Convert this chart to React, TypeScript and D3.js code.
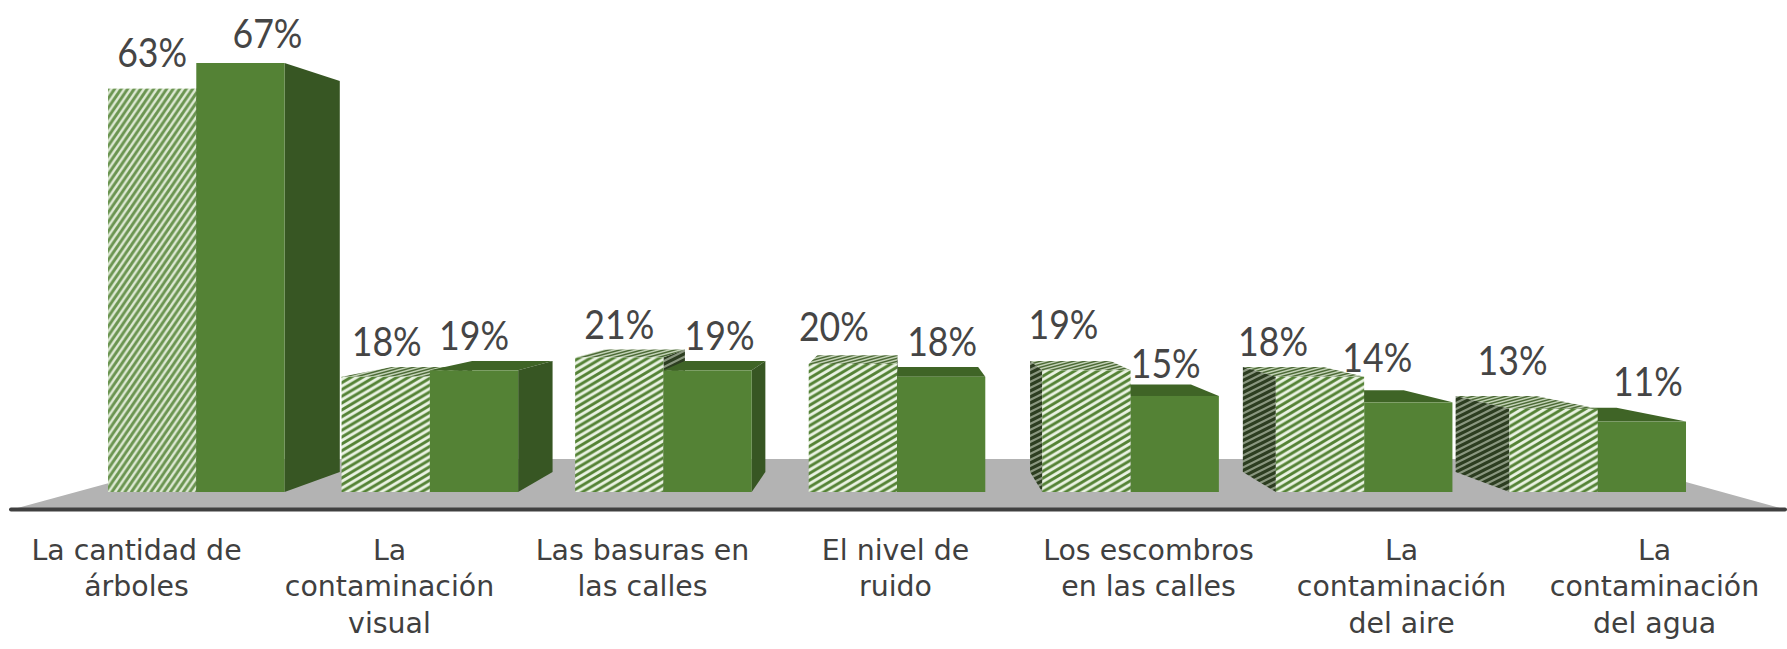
import React from "react";
import * as d3 from "d3";

const categories = [
  ["La cantidad de", "árboles"],
  ["La", "contaminación", "visual"],
  ["Las basuras en", "las calles"],
  ["El nivel de", "ruido"],
  ["Los escombros", "en las calles"],
  ["La", "contaminación", "del aire"],
  ["La", "contaminación", "del agua"],
];
const hatchedValues = [63, 18, 21, 20, 19, 18, 13];
const solidValues = [67, 19, 19, 18, 15, 14, 11];

// label placement relative to each bar's top centre
const hatchedNudgeX = [0, 1, 0, -19, -23, -47, -41];
const hatchedNudgeY = [-38, -37, -35, -39, -47, -37, -50];
const solidNudgeX = [27, 0, 12, 1, -9, -31, 6];
const solidNudgeY = [-31, -36, -36, -37, -34, -46, -42];

const W = 1787, H = 649;
const BASE = 492, VPX = 905, VPY = 266, DEPTH = 0.911;
const AXIS_Y = 509.5;

const keys = categories.map((_, i) => String(i));
const x0 = d3.scaleBand().domain(keys).range([79.5, 1714.5]).paddingInner(0.244).paddingOuter(0.122);
const x1 = d3.scaleBand().domain(["h", "s"]).range([0, x0.bandwidth()]);
const y = d3.scaleLinear().domain([0, 67]).range([BASE, 63]);
const xAxis = d3.scaleBand().domain(keys).range([10, 1781]);

const proj = (px: number, py: number, s: number): [number, number] => [VPX + (px - VPX) * s, VPY + (py - VPY) * s];
const poly = d3.line();
const floorS = (py: number) => (py - VPY) / (BASE - VPY);

function Tile({ id, w, h, bg, fg, ratio = 0.5, transform }: any) {
  const perp = (w * h) / Math.hypot(w, h);
  return (
    <pattern id={id} width={w} height={h} patternUnits="userSpaceOnUse" patternTransform={transform}>
      <rect width={w} height={h} fill={bg} />
      {[-1, 0, 1].map((k) => (
        <line key={k} x1={-w} y1={h * (2 + k)} x2={2 * w} y2={h * (k - 1)} stroke={fg} strokeWidth={perp * ratio} />
      ))}
    </pattern>
  );
}

type Bar = { g: number; kind: "h" | "s"; v: number; l: number; r: number; t: number };
const bars: Bar[] = [];
keys.forEach((k, i) => {
  (["h", "s"] as const).forEach((kind) => {
    const l = x0(k)! + x1(kind)!;
    const v = kind === "h" ? hatchedValues[i] : solidValues[i];
    bars.push({ g: i, kind, v, l, r: l + x1.bandwidth(), t: y(v) });
  });
});
const ordered = [...bars].sort((a, b) => Math.abs(b.l + b.r - 2 * VPX) - Math.abs(a.l + a.r - 2 * VPX));

function Box({ b }: { b: Bar }) {
  const fine = b.g === 0;
  const front = b.kind === "s" ? "#548235" : fine ? "url(#hFine)" : "url(#hFront)";
  const top = b.kind === "s" ? "#3f6426" : "url(#hTop)";
  const side = b.kind === "s" ? "#375623" : "url(#hSide)";
  const quad = (p: [number, number][]) => poly(p)! + "Z";
  const [bl, blt] = [proj(b.l, BASE, DEPTH), proj(b.l, b.t, DEPTH)];
  const [br, brt] = [proj(b.r, BASE, DEPTH), proj(b.r, b.t, DEPTH)];
  return (
    <g>
      {b.t > VPY && <path d={quad([[b.l, b.t], [b.r, b.t], brt, blt])} fill={top} />}
      {b.r < VPX && <path d={quad([[b.r, b.t], brt, br, [b.r, BASE]])} fill={side} />}
      {b.l > VPX && <path d={quad([[b.l, b.t], blt, bl, [b.l, BASE]])} fill={side} />}
      <rect x={b.l} y={b.t} width={b.r - b.l} height={BASE - b.t} fill={front} />
    </g>
  );
}

export default function App() {
  const sF = floorS(AXIS_Y), sB = floorS(459);
  const unproj = (px: number) => VPX + (px - VPX) / sF;
  const floor = [
    [12, AXIS_Y], [1785, AXIS_Y],
    proj(unproj(1785), BASE, sB), proj(unproj(12), BASE, sB),
  ] as [number, number][];
  return (
    <svg width={W} height={H} style={{ position: "absolute", left: 0, top: 0, background: "#fff" }}>
      <defs>
        <Tile id="hFine" w={6.5} h={9.5} bg="#dfeAd5" fg="#6a9450" ratio={0.55} />
        <Tile id="hFront" w={11.5} h={6.8} bg="#eaf3e3" fg="#548235" />
        <Tile id="hSide" w={12} h={6} bg="#8a9780" fg="#2c3d20" ratio={0.6} />
        <Tile id="hTop" w={11} h={3} bg="#c3d2b6" fg="#4c6a36" />
      </defs>
      <path d={poly(floor)! + "Z"} fill="#b3b3b3" />
      {ordered.map((b) => <Box key={b.g + b.kind} b={b} />)}
      <line x1={11} x2={1785} y1={AXIS_Y} y2={AXIS_Y} stroke="#404040" strokeWidth={4} strokeLinecap="round" />
      {bars.map((b) => {
        const nx = b.kind === "h" ? hatchedNudgeX[b.g] : solidNudgeX[b.g];
        const ny = b.kind === "h" ? hatchedNudgeY[b.g] : solidNudgeY[b.g];
        return (
          <text key={b.g + b.kind} transform={`translate(${(b.l + b.r) / 2 + nx},${b.t + ny}) scale(0.87,1)`} textAnchor="middle" dominantBaseline="central"
            fontFamily="Lato" fontSize={41} fill="#454545">{b.v}%</text>
        );
      })}
      {categories.map((lines, i) => (
        <text key={i} textAnchor="middle" fontFamily="DejaVu Sans" fontSize={28.4} fill="#404040">
          {lines.map((t, j) => (
            <tspan key={j} x={xAxis(keys[i])! + xAxis.bandwidth() / 2} y={560 + j * 36.3}>{t}</tspan>
          ))}
        </text>
      ))}
    </svg>
  );
}
